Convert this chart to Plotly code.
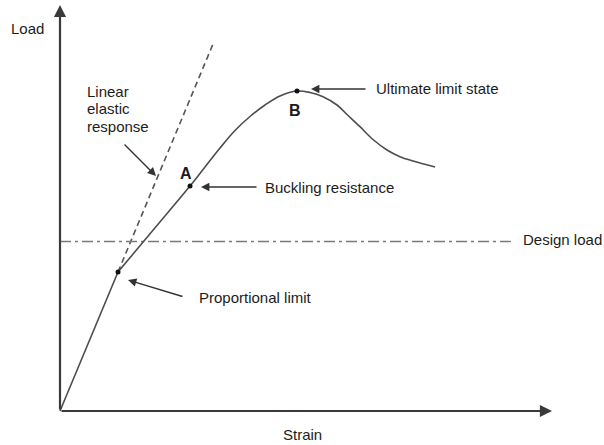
import plotly.graph_objects as go

# Load-strain response of a compression member (arbitrary units)
elastic_strain = [0, 58]
elastic_load = [0, 139]

post_strain = [58, 94, 130, 145, 160, 175, 190, 205, 220, 237, 250, 263, 277, 287, 300, 313, 327, 340, 353, 375]
post_load = [139, 182, 225, 244, 263, 280.5, 294.5, 306, 315, 320, 318.5, 314.3, 306, 296.5, 284.3, 271.5, 261, 254.3, 250, 244]

# Linear elastic extrapolation beyond the proportional limit
linear_strain = [58, 153]
linear_load = [139, 367]

design_load = 169.5
design_strain_end = 452

# Marked points: proportional limit, A (buckling resistance), B (ultimate limit state)
point_names = ["Proportional limit", "A", "B"]
point_strain = [58, 130, 237]
point_load = [139, 225, 320]

axis_strain_max = 492
axis_load_max = 406

curve_color = "#4d4d4d"
ink = "#1c1c1c"
font_family = "Liberation Sans, Arial, sans-serif"

fig = go.Figure()

fig.add_trace(go.Scatter(
    x=linear_strain, y=linear_load, mode="lines",
    line=dict(color="#555555", width=1.6, dash="6px,4px"), hoverinfo="skip"))

fig.add_trace(go.Scatter(
    x=[0, design_strain_end], y=[design_load, design_load], mode="lines",
    line=dict(color="#7a7a7a", width=1.3, dash="11px,4px,3px,4px"), hoverinfo="skip"))

fig.add_trace(go.Scatter(
    x=elastic_strain, y=elastic_load, mode="lines",
    line=dict(color=curve_color, width=1.6), hoverinfo="skip"))

fig.add_trace(go.Scatter(
    x=post_strain, y=post_load, mode="lines",
    line=dict(color=curve_color, width=1.6, shape="spline", smoothing=1.0), hoverinfo="skip"))

fig.add_trace(go.Scatter(
    x=point_strain, y=point_load, mode="markers", text=point_names,
    marker=dict(color="#111111", size=5), hoverinfo="text"))

annotations = []

# Axes drawn as arrows from the origin
for tip in [(0, axis_load_max), (axis_strain_max, 0)]:
    annotations.append(dict(
        x=tip[0], y=tip[1], ax=0, ay=0, xref="x", yref="y", axref="x", ayref="y",
        showarrow=True, arrowhead=2, arrowsize=1.1, arrowwidth=2.2,
        arrowcolor="#3a3a3a", text=""))


def label(text, x, y, xanchor="left", size=15, bold=False):
    annotations.append(dict(
        x=x, y=y, xref="x", yref="y", text=f"<b>{text}</b>" if bold else text,
        showarrow=False, xanchor=xanchor, yanchor="middle",
        font=dict(family=font_family, size=size, color=ink)))


def pointer(x, y, ax, ay):
    annotations.append(dict(
        x=x, y=y, ax=ax, ay=ay, xref="x", yref="y", axref="x", ayref="y",
        showarrow=True, arrowhead=2, arrowsize=1.2, arrowwidth=1.4,
        arrowcolor="#333333", text=""))


label("Load", -51, 383)
label("Strain", 242, -23, xanchor="center")
label("Linear", 25, 320)
label("elastic", 25, 302.5)
label("response", 25, 285)
label("A", 126, 238, xanchor="center", size=16, bold=True)
label("B", 235, 300.5, xanchor="center", size=16, bold=True)
label("Buckling resistance", 203, 224)
label("Ultimate limit state", 314, 323)
label("Design load", 461, 172)
label("Proportional limit", 137, 114)

pointer(96, 235, 63, 268)      # linear elastic response
pointer(141, 224, 198, 224)    # buckling resistance
pointer(251, 322, 307, 322)    # ultimate limit state
pointer(68, 131, 124, 114)     # proportional limit

fig.update_layout(
    width=604, height=445, autosize=False,
    margin=dict(l=0, r=0, t=0, b=0),
    paper_bgcolor="white", plot_bgcolor="white",
    showlegend=False,
    xaxis=dict(range=[-60, 544], visible=False, fixedrange=True),
    yaxis=dict(range=[-34, 411], visible=False, fixedrange=True),
    annotations=annotations,
)

fig.write_html("out.html")
